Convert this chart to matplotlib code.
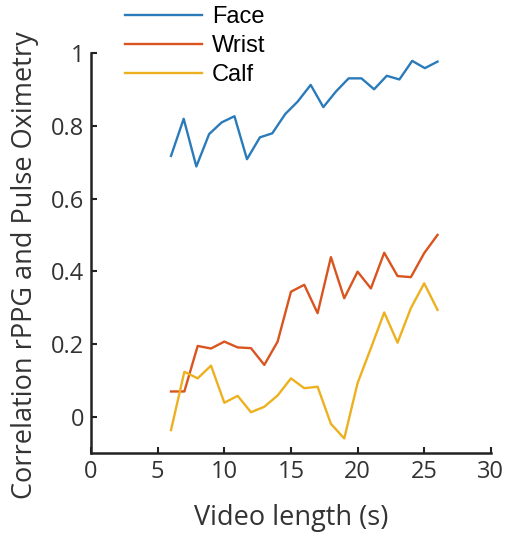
import matplotlib.pyplot as plt

BLUE = "#2B7BBA"
ORANGE = "#D9541E"
YELLOW = "#EDB120"

face_x = [6.0, 6.95, 7.9, 8.86, 9.8, 10.76, 11.7, 12.67, 13.6, 14.57, 15.5,
          16.48, 17.43, 18.38, 19.33, 20.29, 21.24, 22.19, 23.14, 24.1, 25.05, 26.0]
face_y = [0.717, 0.819, 0.688, 0.777, 0.809, 0.826, 0.708, 0.768, 0.779, 0.832, 0.866,
          0.912, 0.851, 0.894, 0.930, 0.930, 0.900, 0.937, 0.927, 0.978, 0.958, 0.976]

length_x = [6, 7, 8, 9, 10, 11, 12, 13, 14, 15, 16, 17, 18, 19, 20, 21, 22, 23, 24, 25, 26]
wrist_y = [0.070, 0.070, 0.195, 0.188, 0.207, 0.191, 0.189, 0.143, 0.207, 0.344, 0.363,
           0.285, 0.439, 0.326, 0.399, 0.353, 0.451, 0.387, 0.384, 0.450, 0.500]
calf_y = [-0.036, 0.124, 0.106, 0.141, 0.039, 0.058, 0.013, 0.028, 0.059, 0.106, 0.079,
          0.083, -0.019, -0.059, 0.093, 0.189, 0.287, 0.204, 0.299, 0.367, 0.294]

x_ticks = [0, 5, 10, 15, 20, 25, 30]
y_ticks = [0, 0.2, 0.4, 0.6, 0.8, 1]
y_tick_labels = ["0", "0.2", "0.4", "0.6", "0.8", "1"]

TEXT_FONT = ["Open Sans", "DejaVu Sans"]

fig = plt.figure(figsize=(5.06, 5.34), dpi=100)
ax = fig.add_axes([0.18, 0.151, 0.79, 0.75])

ax.plot(face_x, face_y, color=BLUE, linewidth=1.7, label="Face")
ax.plot(length_x, wrist_y, color=ORANGE, linewidth=1.7, label="Wrist")
ax.plot(length_x, calf_y, color=YELLOW, linewidth=1.7, label="Calf")

ax.set_xlim(0, 30)
ax.set_ylim(-0.1, 1.0)
ax.set_xticks(x_ticks)
ax.set_yticks(y_ticks)
ax.set_yticklabels(y_tick_labels)
for spine in ("top", "right"):
    ax.spines[spine].set_visible(False)
for spine in ("left", "bottom"):
    ax.spines[spine].set_linewidth(1.8)
    ax.spines[spine].set_color("#222222")
ax.tick_params(direction="in", length=4, width=1.5, colors="#222222",
               labelsize=17, pad=5)
for label in ax.get_xticklabels() + ax.get_yticklabels():
    label.set_fontfamily(TEXT_FONT)
    label.set_color("#333333")

ax.set_xlabel("Video length (s)", fontsize=19.5, family=TEXT_FONT,
              color="#333333", labelpad=14)
ax.set_ylabel("Correlation rPPG and Pulse Oximetry", fontsize=19.5,
              family=TEXT_FONT, color="#333333")
ax.yaxis.set_label_coords(-0.13, 0.47)

legend = ax.legend(loc="upper left", bbox_to_anchor=(0.06, 1.14), frameon=False,
                   prop={"family": "Liberation Sans", "size": 17},
                   handlelength=3.3, handletextpad=0.4, labelspacing=0.3,
                   borderaxespad=0)

fig.savefig("out.png", dpi=100)
